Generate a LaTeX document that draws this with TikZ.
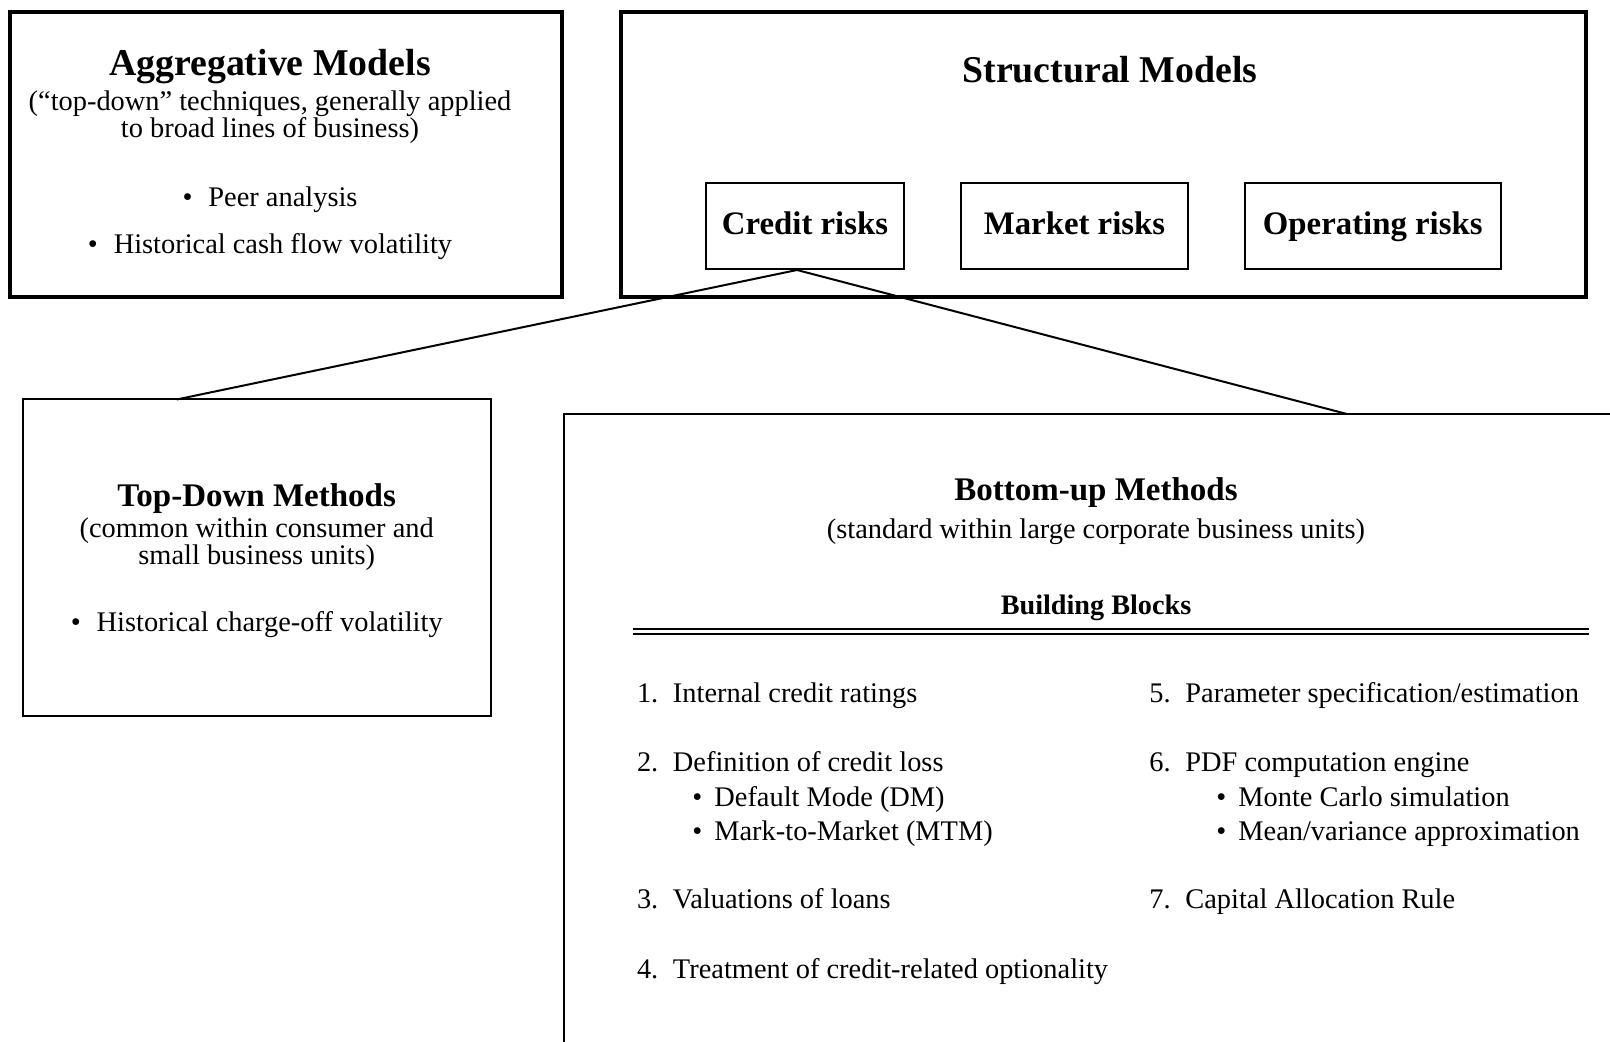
\documentclass[tikz,border=0pt]{standalone}
\usepackage{fontspec}
\setmainfont{Liberation Serif}
\usetikzlibrary{positioning}
\newcommand{\blocknum}[1]{\makebox[18pt][l]{#1}}
\newcommand{\blockdot}{\makebox[11pt][l]{\textbullet}}
\tikzset{
	modelbox/.append style={
		draw,
		line width=2pt,
		anchor=north west,
		inner sep=0pt,
		outer sep=0pt,
	},
	riskbox/.append style={
		draw,
		line width=1pt,
		minimum height=43pt,
		text height=1.05em,
		text depth=0.2em,
		font={\fontsize{16.4}{19}\selectfont\bfseries},
	},
	methodbox/.append style={
		draw,
		line width=1pt,
		anchor=north west,
		inner sep=0pt,
		outer sep=0pt,
	},
	titl/.append style={
		anchor=base,
		inner sep=0pt,
		font={\fontsize{18.9}{22}\selectfont\bfseries},
	},
	subtitl/.append style={
		anchor=base,
		inner sep=0pt,
		font={\fontsize{16.5}{19}\selectfont\bfseries},
	},
	blockhead/.append style={
		anchor=base,
		inner sep=0pt,
		font={\fontsize{14.1}{17}\selectfont\bfseries},
	},
	txt/.append style={
		anchor=base,
		inner sep=0pt,
		font={\fontsize{14.2}{17}\selectfont},
	},
	listitem/.append style={
		txt,
		anchor=base west,
	},
	connector/.append style={
		line width=1pt,
	},
	dblrule/.append style={
		double,
		line width=1pt,
		double distance=1.35pt,
	}
}

\begin{document}
\begin{tikzpicture}[x=0.5pt, y=-0.5pt]
\useasboundingbox (0,0) rectangle (1610,1042);
\clip (0,0) rectangle (1610,1042);

% upper row
\node(aggr)[modelbox, minimum width=276pt, minimum height=142.5pt] at (9.5,12) {};
\node(aggrT)[titl] at (270,76) {Aggregative Models};
\node(aggrS1)[txt] at (270,110.5) {(“top-down” techniques, generally applied};
\node(aggrS2)[txt] at (270,138) {to broad lines of business)};
\node(aggrB1)[txt] at (270,207) {\textbullet\hspace{8pt}Peer analysis};
\node(aggrB2)[txt] at (270,254) {\textbullet\hspace{8pt}Historical cash flow volatility};

\node(struct)[modelbox, minimum width=482.5pt, minimum height=142.5pt] at (621,12) {};
\node(structT)[titl] at (1110,83) {Structural Models};

\node(credit)[riskbox, minimum width=99pt] at (805,226) {Credit risks};
\node(market)[riskbox, minimum width=113.5pt, right = 27.5pt of credit] {Market risks};
\node(oper)[riskbox, minimum width=127.75pt, right = 27.5pt of market] {Operating risks};

% lower row
\node(topdown)[methodbox, minimum width=234pt, minimum height=158pt] at (22.6,399.5) {};
\node(tdT)[subtitl] at (256.7,506.5) {Top-Down Methods};
\node(tdS1)[txt] at (256.7,537.5) {(common within consumer and};
\node(tdS2)[txt] at (256.7,564) {small business units)};
\node(tdB1)[txt] at (256.7,631.5) {\textbullet\hspace{8pt}Historical charge-off volatility};

\node(bottomup)[methodbox, minimum width=533pt, minimum height=330pt] at (563.7,414) {};
\node(buT)[subtitl] at (1096,500.5) {Bottom-up Methods};
\node(buS)[txt] at (1096,538.5) {(standard within large corporate business units)};
\node(blocks)[blockhead] at (1096,614.5) {Building Blocks};
\coordinate(ruleL) at (632.5,631.5);
\coordinate(ruleR) at (1588.5,631.5);
\draw[dblrule] (ruleL) -- (ruleR);

\node(bb1)[listitem] at (636.6,702) {\blocknum{1.}Internal credit ratings};
\node(bb2)[listitem] at (636.6,771) {\blocknum{2.}Definition of credit loss};
\node(bb2a)[listitem] at (692,806) {\blockdot Default Mode (DM)};
\node(bb2b)[listitem] at (692,840) {\blockdot Mark-to-Market (MTM)};
\node(bb3)[listitem] at (636.6,908.5) {\blocknum{3.}Valuations of loans};
\node(bb4)[listitem] at (636.6,978) {\blocknum{4.}Treatment of credit-related optionality};

\node(bb5)[listitem] at (1149,702) {\blocknum{5.}Parameter specification/estimation};
\node(bb6)[listitem] at (1149,771) {\blocknum{6.}PDF computation engine};
\node(bb6a)[listitem] at (1216,806) {\blockdot Monte Carlo simulation};
\node(bb6b)[listitem] at (1216,840) {\blockdot Mean/variance approximation};
\node(bb7)[listitem] at (1149,908.5) {\blocknum{7.}Capital Allocation Rule};

\draw[connector] ([xshift=-4pt]credit.south) -- ([xshift=77pt]topdown.north west);
\draw[connector] ([xshift=-4pt]credit.south) -- ([xshift=391.6pt]bottomup.north west);

\end{tikzpicture}
\end{document}
